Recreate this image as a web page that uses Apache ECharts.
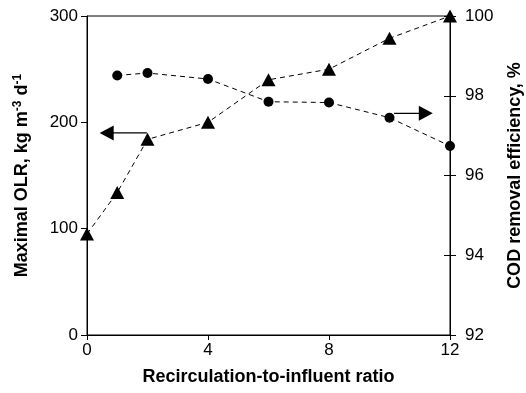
<!DOCTYPE html>
<html>
<head>
<meta charset="utf-8">
<script src="https://cdn.jsdelivr.net/npm/echarts@6/dist/echarts.min.js"></script>
<style>
    html, body { margin: 0; padding: 0; background: #fff; }
    #chart { width: 526px; height: 393px; }
</style>
</head>
<body>
<div id="chart"></div>
<script>
// 数据
const ratioOlr = [0, 1, 2, 4, 6, 8, 10, 12];
const maxOlr = [95, 134, 184, 200, 240, 250, 279, 300];
const ratioCod = [1, 2, 4, 6, 8, 10, 12];
const codEff = [98.51, 98.57, 98.42, 97.85, 97.83, 97.45, 96.74];
const xTicks = [0, 4, 8, 12];
const olrTicks = [0, 100, 200, 300];
const codTicks = [92, 94, 96, 98, 100];
// 箭头: [起点x, 终点x, y]
const leftArrow = [1.98, 0.65, 190];
const rightArrow = [10.15, 11.2, 97.56];

const font = 'Liberation Sans, Arial, sans-serif';
const black = '#000';

const pairs = (xs, ys) => xs.map((x, i) => [x, ys[i]]);

const arrow = (a, axis, rot) => ({
    type: 'line',
    yAxisIndex: axis,
    silent: true,
    lineStyle: { color: black, width: 1.3 },
    data: [
        { value: [a[0], a[2]], symbol: 'none' },
        { value: [a[1], a[2]], symbol: 'triangle', symbolSize: [15, 14], symbolRotate: rot }
    ],
    itemStyle: { color: black },
    z: 3
});

const chart = echarts.init(document.getElementById('chart'));
chart.setOption({
    'animation': false,
    'grid': {
        'left': 87,
        'right': 76,
        'top': 16,
        'bottom': 58,
        'containLabel': false,
        'outerBoundsMode': 'none',
        'show': true,
        'borderColor': black,
        'borderWidth': 1
    },
    'xAxis': {
        'type': 'value',
        'min': 0,
        'max': 12,
        'interval': 4,
        'name': 'Recirculation-to-influent ratio',
        'nameLocation': 'middle',
        'nameGap': 33,
        'nameTextStyle': { 'fontFamily': font, 'fontSize': 18, 'fontWeight': 'bold', 'color': black },
        'axisLine': { 'lineStyle': { 'color': black } },
        'axisTick': { 'length': 5, 'lineStyle': { 'color': black } },
        'axisLabel': {
            'fontFamily': font, 'fontSize': 17, 'color': black, 'margin': 7,
            'formatter': (v) => xTicks.includes(v) ? String(v) : ''
        },
        'splitLine': { 'show': false }
    },
    'yAxis': [{
        'type': 'value',
        'position': 'left',
        'min': olrTicks[0],
        'max': olrTicks[olrTicks.length - 1],
        'interval': 100,
        'name': '{a|Maximal OLR, kg m}{s|-3}{a| d}{s|-1}',
        'nameLocation': 'middle',
        'nameRotate': 90,
        'nameGap': 54,
        'nameTextStyle': {
            'rich': {
                'a': { 'fontFamily': font, 'fontSize': 18, 'fontWeight': 'bold', 'color': black, 'lineHeight': 21 },
                's': { 'fontFamily': font, 'fontSize': 12, 'fontWeight': 'bold', 'color': black, 'verticalAlign': 'top', 'lineHeight': 21 }
            }
        },
        'axisLine': { 'show': true, 'lineStyle': { 'color': black } },
        'axisTick': { 'show': true, 'length': 6, 'lineStyle': { 'color': black } },
        'axisLabel': { 'fontFamily': font, 'fontSize': 17, 'color': black, 'margin': 9 },
        'splitLine': { 'show': false }
    }, {
        'type': 'value',
        'position': 'right',
        'min': codTicks[0],
        'max': codTicks[codTicks.length - 1],
        'interval': 2,
        'name': 'COD removal efficiency, %',
        'nameLocation': 'middle',
        'nameRotate': 90,
        'nameGap': 56,
        'nameTextStyle': { 'fontFamily': font, 'fontSize': 18, 'fontWeight': 'bold', 'color': black },
        'axisLine': { 'show': true, 'lineStyle': { 'color': black } },
        'axisTick': { 'show': true, 'length': 6, 'lineStyle': { 'color': black } },
        'axisLabel': { 'fontFamily': font, 'fontSize': 17, 'color': black, 'margin': 15 },
        'splitLine': { 'show': false }
    }, {
        // 右轴内侧刻度
        'type': 'value',
        'position': 'right',
        'min': codTicks[0],
        'max': codTicks[codTicks.length - 1],
        'interval': 2,
        'axisLine': { 'show': false },
        'axisTick': { 'show': true, 'inside': true, 'length': 6, 'lineStyle': { 'color': black } },
        'axisLabel': { 'show': false },
        'splitLine': { 'show': false }
    }],
    'series': [{
        'name': 'OLR',
        'type': 'line',
        'yAxisIndex': 0,
        'data': pairs(ratioOlr, maxOlr),
        'symbol': 'triangle',
        'symbolSize': [14, 13],
        'itemStyle': { 'color': black },
        'lineStyle': { 'color': black, 'width': 1, 'type': [5, 4] },
        'z': 4
    }, {
        'name': 'COD',
        'type': 'line',
        'yAxisIndex': 1,
        'data': pairs(ratioCod, codEff),
        'symbol': 'circle',
        'symbolSize': 10,
        'itemStyle': { 'color': black },
        'lineStyle': { 'color': black, 'width': 1, 'type': [5, 4] },
        'z': 4
    },
    arrow(leftArrow, 0, 90),
    arrow(rightArrow, 1, -90)]
});
</script>
</body>
</html>
